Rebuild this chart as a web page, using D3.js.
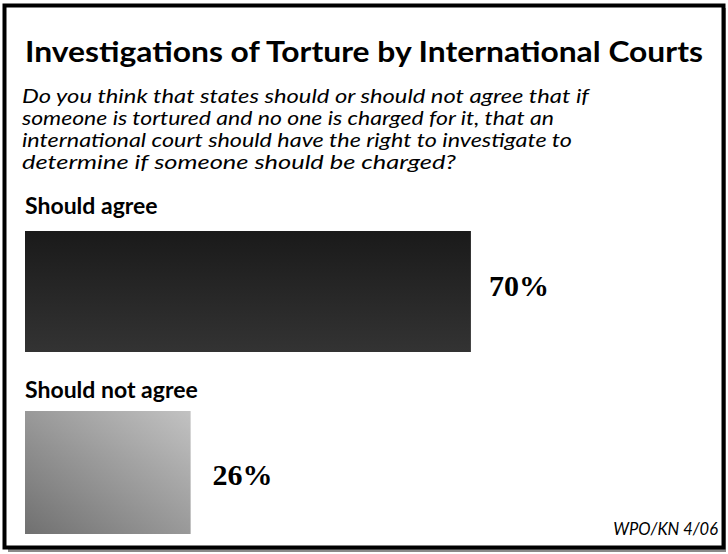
<!DOCTYPE html>
<html>
<head>
<meta charset="utf-8">
<script src="https://cdn.jsdelivr.net/npm/d3@7/dist/d3.min.js"></script>
<style>
  html, body { margin: 0; padding: 0; background: #fff; }
  svg { display: block; }
</style>
</head>
<body>
<svg id="chart" width="728" height="554"></svg>
<script>
// Survey answers and their shares (percent)
const categories = ["Should agree", "Should not agree"];
const values = [70, 26];
const valueLabels = ["70%", "26%"];

const titleText = "Investigations of Torture by International Courts";
const questionLines = [
  "Do you think that states should or should not agree that if",
  "someone is tortured and no one is charged for it, that an",
  "international court should have the right to investigate to",
  "determine if someone should be charged?"
];
const sourceText = "WPO/KN 4/06";

const W = 728, H = 554;
const sans = "Lato, 'Open Sans', sans-serif";
const svg = d3.select("#chart");

// Gradients for the two bars
const defs = svg.append("defs");
const g1 = defs.append("linearGradient").attr("id", "grad0")
  .attr("x1", 0).attr("y1", 0).attr("x2", 0).attr("y2", 1);
g1.append("stop").attr("offset", "0%").attr("stop-color", "#1a1a1a");
g1.append("stop").attr("offset", "100%").attr("stop-color", "#333333");
const g2 = defs.append("linearGradient").attr("id", "grad1")
  .attr("x1", 1).attr("y1", 0).attr("x2", 0).attr("y2", 1);
g2.append("stop").attr("offset", "0%").attr("stop-color", "#c2c2c2");
g2.append("stop").attr("offset", "100%").attr("stop-color", "#707070");

// Drop shadow and frame
svg.append("rect").attr("x", 8).attr("y", 8).attr("width", 718).attr("height", 544)
  .attr("fill", "#8a8a8a");
svg.append("rect").attr("x", 4.5).attr("y", 5.5).attr("width", 719).attr("height", 542)
  .attr("fill", "#fff").attr("stroke", "#000").attr("stroke-width", 4);

// Title
svg.append("text")
  .attr("x", W / 2).attr("y", 62)
  .attr("text-anchor", "middle")
  .attr("font-family", sans)
  .attr("font-weight", "bold")
  .attr("font-size", 28)
  .attr("textLength", 678).attr("lengthAdjust", "spacingAndGlyphs")
  .attr("fill", "#000")
  .text(titleText);

// Question text
const qWidths = [567, 532, 550, 434];
svg.append("g").selectAll("text").data(questionLines).join("text")
  .attr("x", 22)
  .attr("y", (d, i) => 103 + i * 22)
  .attr("font-family", sans)
  .attr("font-style", "italic")
  .attr("font-size", 20)
  .attr("textLength", (d, i) => qWidths[i]).attr("lengthAdjust", "spacingAndGlyphs")
  .attr("fill", "#000")
  .text(d => d);

// Bar layout
const x = d3.scaleLinear().domain([0, 100]).range([25, 25 + 637]);
const barTop = [231, 411];
const barH = [121, 123];
const labelY = [214, 398];
const valueY = [296, 485];
const valueGap = [18, 22];

const rows = svg.append("g").selectAll("g").data(categories).join("g");

rows.append("text")
  .attr("x", 25).attr("y", (d, i) => labelY[i])
  .attr("font-family", sans)
  .attr("font-weight", "bold")
  .attr("font-size", 23)
  .attr("fill", "#000")
  .text(d => d);

rows.append("rect")
  .attr("x", x(0))
  .attr("y", (d, i) => barTop[i])
  .attr("width", (d, i) => x(values[i]) - x(0))
  .attr("height", (d, i) => barH[i])
  .attr("fill", (d, i) => `url(#grad${i})`);

rows.append("text")
  .attr("x", (d, i) => x(values[i]) + valueGap[i])
  .attr("y", (d, i) => valueY[i])
  .attr("font-family", "'Liberation Serif', serif")
  .attr("font-weight", "bold")
  .attr("font-size", 30)
  .attr("fill", "#000")
  .text((d, i) => valueLabels[i]);

// Source note
svg.append("text")
  .attr("x", 718).attr("y", 535)
  .attr("text-anchor", "end")
  .attr("font-family", sans)
  .attr("font-style", "italic")
  .attr("font-size", 16.5)
  .attr("fill", "#000")
  .text(sourceText);
</script>
</body>
</html>
